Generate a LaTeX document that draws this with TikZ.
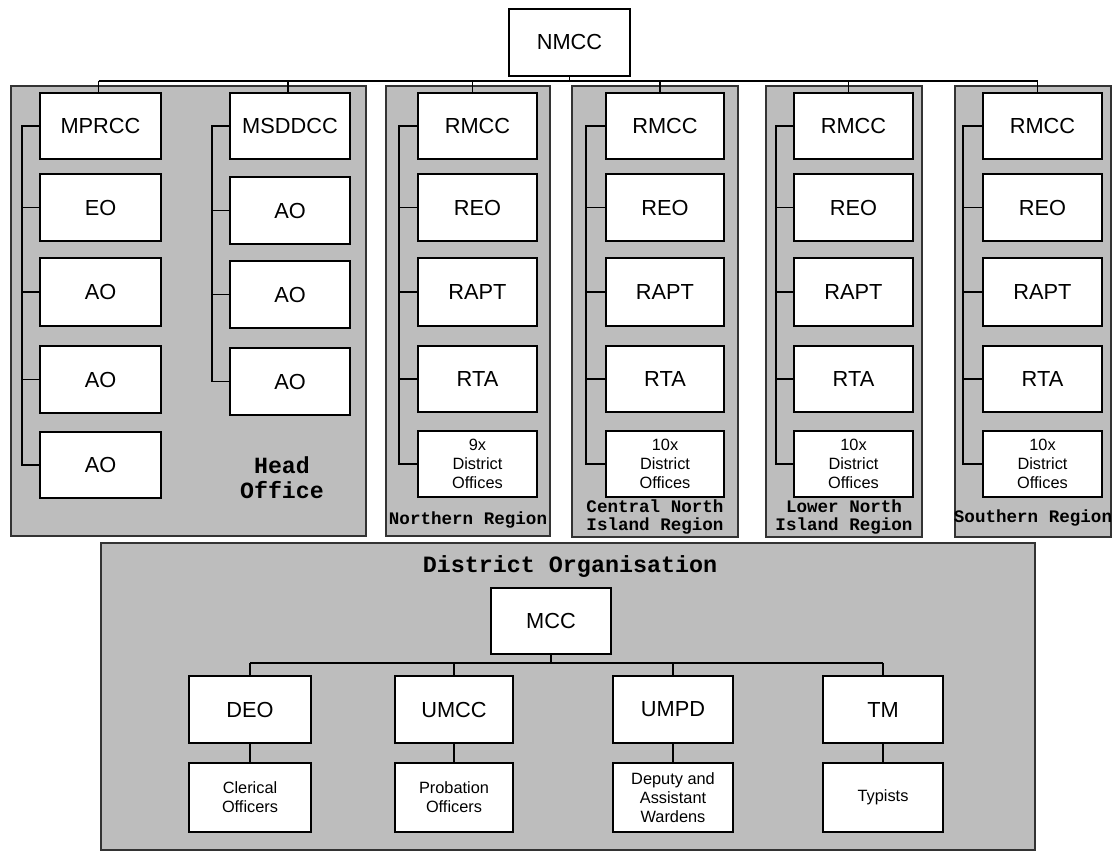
\documentclass[tikz,border=0pt]{standalone}
\usepackage{fontspec}
\setmainfont{Liberation Sans}
\newfontfamily\cour{Liberation Mono}
\usetikzlibrary{calc}
\definecolor{halftone}{gray}{0.74}
\newcommand\obx[7][obox]{%
  \pgfmathsetmacro\cx{(#3+#5)/2}\pgfmathsetmacro\cy{(#4+#6)/2}%
  \pgfmathsetmacro\ww{(#5-#3)*0.02}\pgfmathsetmacro\hh{(#6-#4)*0.02}%
  \node[#1,minimum width=\ww cm,minimum height=\hh cm] (#2) at (\cx,\cy) {#7};}
\begin{document}
\begin{tikzpicture}[x=0.02cm,y=-0.02cm,
  obox/.style={draw=black,line width=1pt,fill=white,inner sep=0pt,align=center,
    font=\fontsize{12.4}{14}\selectfont},
  sbox/.style={obox,font=\fontsize{9.3}{10.8}\selectfont},
  panel/.style={draw=black!80,line width=0.6pt,fill=halftone},
  plabel/.style={font=\cour\bfseries\fontsize{10}{10.8}\selectfont,align=center,inner sep=0pt},
  link/.style={line width=0.9pt}]
\useasboundingbox (0,0) rectangle (1113,852);
% panels
\path[panel] (11,86) rectangle (366,536);
\path[panel] (386,86) rectangle (550,536);
\path[panel] (572,86) rectangle (738,537);
\path[panel] (766,86) rectangle (922,537);
\path[panel] (955,86) rectangle (1111,537);
\path[panel] (101,543) rectangle (1035,850);
% top
\obx{nmcc}{509}{9}{630}{76}{NMCC}
\coordinate (bus) at (0,81);
% head office left column
\obx{mprcc}{40}{93}{161}{159}{MPRCC}
\obx{eo}{40}{174}{161}{241}{EO}
\obx{ao1}{40}{258}{161}{326}{AO}
\obx{ao2}{40}{346}{161}{413}{AO}
\obx{ao3}{40}{432}{161}{498}{AO}
% head office right column
\obx{msddcc}{230}{93}{350}{159}{MSDDCC}
\obx{ao4}{230}{177}{350}{244}{AO}
\obx{ao5}{230}{261}{350}{328}{AO}
\obx{ao6}{230}{348}{350}{415}{AO}
% regions
\foreach \p/\xa/\xb/\n in {n/418/537/9,c/606/724/10,l/794/913/10,s/983/1102/10}{
  \obx{\p rmcc}{\xa}{93}{\xb}{159}{RMCC}
  \obx{\p reo}{\xa}{174}{\xb}{241}{REO}
  \obx{\p rapt}{\xa}{258}{\xb}{326}{RAPT}
  \obx{\p rta}{\xa}{346}{\xb}{412}{RTA}
  \obx[sbox]{\p do}{\xa}{431}{\xb}{497}{\n x\\District\\Offices}
}
% vertical connectors
\coordinate (vh1) at (22,0);
\coordinate (vh2) at (212,0);
\coordinate (vn) at (399,0);
\coordinate (vc) at (586,0);
\coordinate (vl) at (776,0);
\coordinate (vs) at (963,0);
\draw[link] (mprcc.west) -- (mprcc.west -| vh1) -- (ao3.west -| vh1) -- (ao3.west);
\foreach \b in {eo,ao1,ao2}{\draw[link] (\b.west) -- (\b.west -| vh1);}
\draw[link] (msddcc.west) -- (msddcc.west -| vh2) -- (ao6.west -| vh2) -- (ao6.west);
\foreach \b in {ao4,ao5}{\draw[link] (\b.west) -- (\b.west -| vh2);}
\foreach \p/\v in {n/vn,c/vc,l/vl,s/vs}{
  \draw[link] (\p rmcc.west) -- (\p rmcc.west -| \v) -- (\p do.west -| \v) -- (\p do.west);
  \foreach \b in {reo,rapt,rta}{\draw[link] (\p\b.west) -- (\p\b.west -| \v);}
}
% top bus
\draw[link] (nmcc.south) -- (nmcc.south |- bus);
\draw[link] ($(mprcc.north |- bus)+(-2,0)$) -- ($(srmcc.north |- bus)+(-5,0)$);
\draw[link] ($(mprcc.north)+(-2,0)$) -- ($(mprcc.north |- bus)+(-2,0)$);
\draw[link] ($(msddcc.north)+(-2,0)$) -- ($(msddcc.north |- bus)+(-2,0)$);
\foreach \p in {n,c,l,s}{
  \draw[link] ($(\p rmcc.north)+(-5,0)$) -- ($(\p rmcc.north |- bus)+(-5,0)$);
}
% panel labels
\node[plabel,font=\cour\bfseries\fontsize{13.2}{14}\selectfont] (lho) at (282,478) {Head\\Office};
\node[plabel] (lnr) at (468,520) {Northern Region};
\node[plabel] (lcr) at (655,517) {Central North\\Island Region};
\node[plabel] (llr) at (844,517) {Lower North\\Island Region};
\node[plabel] (lsr) at (1033,518) {Southern Region};
\node[plabel,font=\cour\bfseries\fontsize{13.3}{14}\selectfont] (ldo) at (570,567) {District Organisation};
% district organisation
\obx{mcc}{491}{588}{611}{654}{MCC}
\coordinate (bbus) at (0,663);
\obx{deo}{189}{676}{311}{743}{DEO}
\obx{umcc}{395}{676}{513}{743}{UMCC}
\obx{umpd}{613}{676}{733}{743}{UMPD}
\obx{tm}{823}{676}{943}{743}{TM}
\obx[sbox]{clk}{189}{763}{311}{832}{Clerical\\Officers}
\obx[sbox]{prob}{395}{763}{513}{832}{Probation\\Officers}
\obx[sbox]{dep}{613}{763}{733}{832}{Deputy and\\Assistant\\Wardens}
\obx[sbox]{typ}{823}{763}{943}{832}{Typists}
\draw[link] (mcc.south) -- (mcc.south |- bbus);
\draw[link] (deo.north |- bbus) -- (tm.north |- bbus);
\foreach \b in {deo,umcc,umpd,tm}{\draw[link] (\b.north) -- (\b.north |- bbus);}
\draw[link] (deo.south) -- (clk.north);
\draw[link] (umcc.south) -- (prob.north);
\draw[link] (umpd.south) -- (dep.north);
\draw[link] (tm.south) -- (typ.north);
\end{tikzpicture}
\end{document}
